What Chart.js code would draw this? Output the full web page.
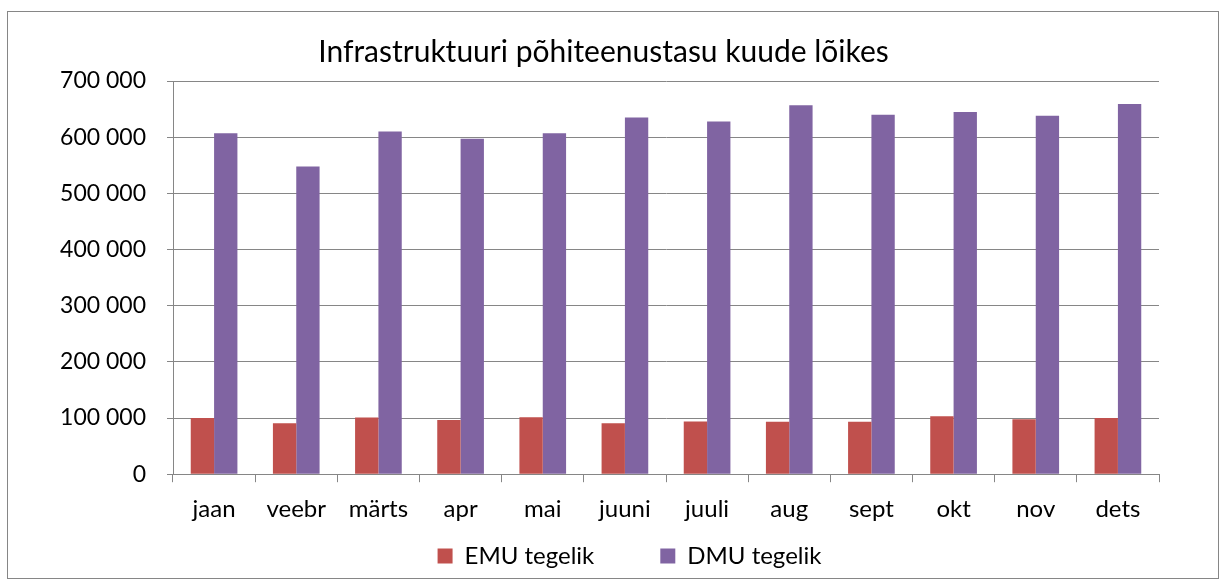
<!DOCTYPE html>
<html>
<head>
<meta charset="utf-8">
<script src="https://cdn.jsdelivr.net/npm/chart.js@4"></script>
<style>
  html, body { margin: 0; padding: 0; background: #fff; }
  #frame {
    position: absolute; left: 7px; top: 11px;
    width: 1212px; height: 568px;
    box-sizing: border-box; border: 1px solid #868686;
  }
</style>
</head>
<body>
<div id="frame"><canvas id="chart"></canvas></div>
<script>
const months = ['jaan', 'veebr', 'märts', 'apr', 'mai', 'juuni', 'juuli', 'aug', 'sept', 'okt', 'nov', 'dets'];
const emuValues = [100000, 90500, 101000, 96500, 101500, 90500, 94000, 93500, 93500, 103000, 98000, 100000];
const dmuValues = [607000, 548000, 610000, 597000, 607000, 635000, 628000, 657000, 640000, 645000, 638000, 659000];

const gridColor = '#868686';
const fontFamily = 'Lato, "Open Sans", sans-serif';

// legend: wide gap between items but a short box, placed like Excel did
const placeLegend = {
  id: 'placeLegend',
  beforeInit(chart) {
    const fit = chart.legend.fit;
    chart.legend.fit = function () { fit.call(this); this.height = 41; };
  },
  afterLayout(chart) {
    const lg = chart.legend;
    lg.top -= 59;
    lg.left += 26;
    lg.right += 26;
  }
};

new Chart(document.getElementById('chart'), {
  type: 'bar',
  data: {
    labels: months,
    datasets: [
      { label: 'EMU tegelik', data: emuValues, backgroundColor: '#C0504D' },
      { label: 'DMU tegelik', data: dmuValues, backgroundColor: '#8064A2' }
    ]
  },
  options: {
    responsive: true,
    maintainAspectRatio: false,
    animation: false,
    categoryPercentage: 0.568,
    barPercentage: 1,
    layout: { padding: { left: 40, right: 59, top: 0, bottom: 0 } },
    plugins: {
      title: {
        display: true,
        text: 'Infrastruktuuri põhiteenustasu kuude lõikes',
        color: '#000',
        font: { family: fontFamily, size: 30, weight: 'normal' },
        padding: { top: 22, bottom: 11 }
      },
      legend: {
        position: 'bottom',
        labels: {
          color: '#000',
          font: { family: fontFamily, size: 24 },
          boxWidth: 15,
          boxHeight: 15,
          padding: 66
        }
      },
      tooltip: { enabled: false }
    },
    scales: {
      x: {
        grid: { display: true, drawOnChartArea: false, tickLength: 8, color: gridColor },
        border: { color: gridColor },
        ticks: { color: '#000', font: { family: fontFamily, size: 24 }, padding: 13, maxRotation: 0 }
      },
      y: {
        min: 0,
        max: 700000,
        afterFit(scale) { scale.width = 125; },
        grid: { color: gridColor, tickLength: 6 },
        border: { color: gridColor },
        ticks: {
          stepSize: 100000,
          color: '#000',
          padding: 21,
          font: { family: fontFamily, size: 23 },
          callback: v => String(v).replace(/\B(?=(\d{3})+(?!\d))/g, ' ')
        }
      }
    }
  },
  plugins: [placeLegend]
});
</script>
</body>
</html>
